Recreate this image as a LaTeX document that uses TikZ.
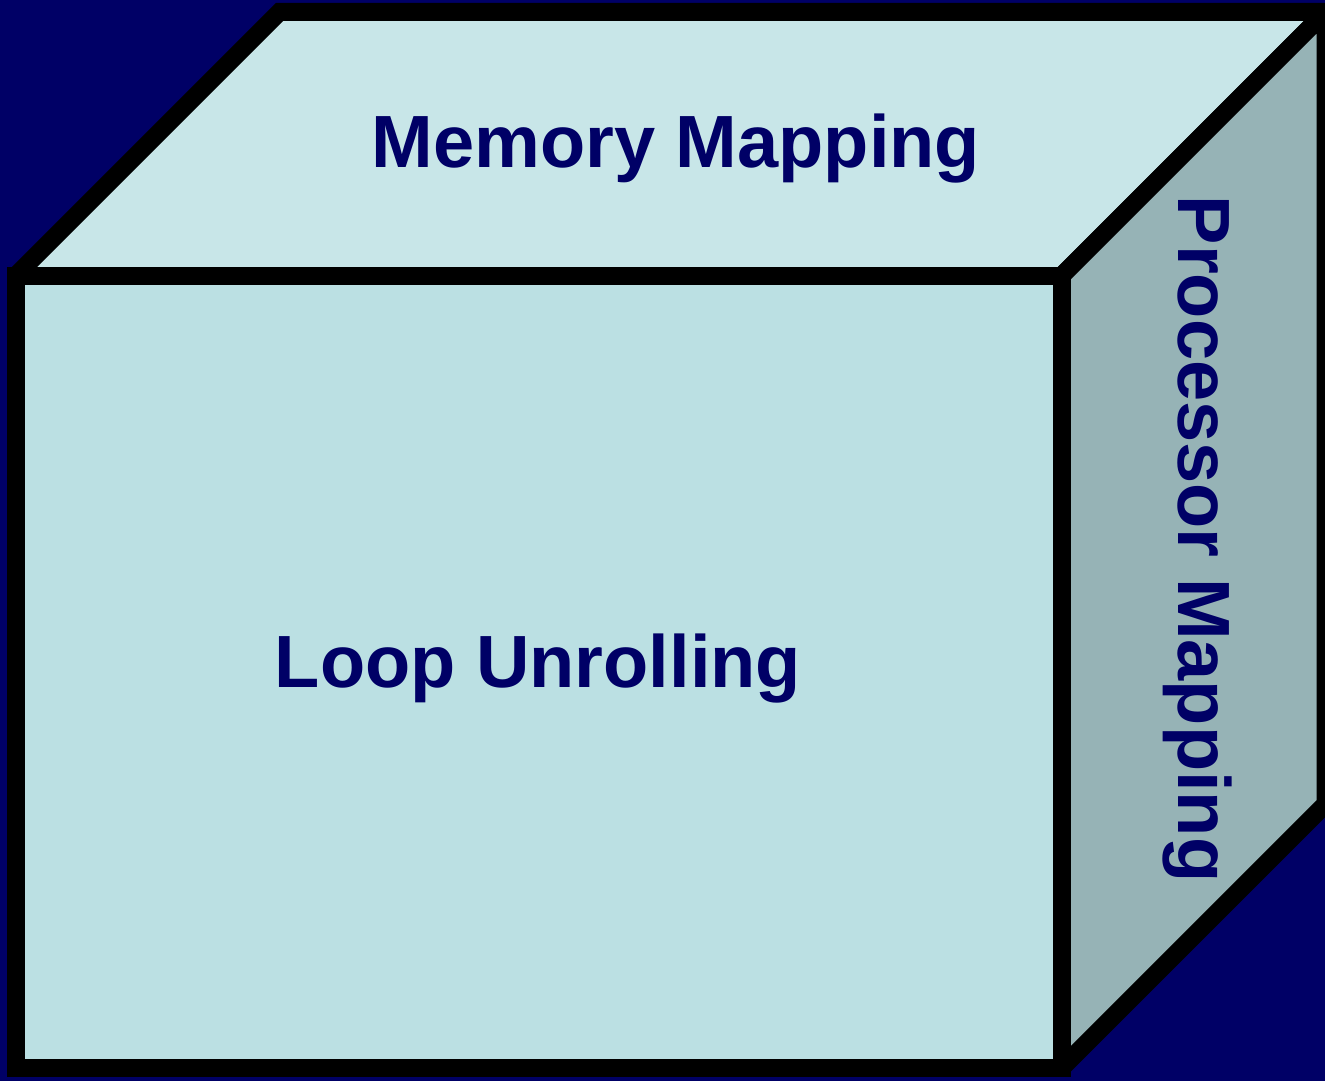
\documentclass[tikz,border=0pt]{standalone}
\usepackage{fontspec}
\setmainfont{Liberation Sans}
\definecolor{navy}{RGB}{0,0,102}
\definecolor{frontcol}{RGB}{187,224,227}
\definecolor{topcol}{RGB}{200,230,232}
\definecolor{sidecol}{RGB}{150,179,182}
\newcommand{\cubeface}[5]{\draw[line width=18pt,line join=miter,miter limit=2,fill=#1] (#2) -- (#3) -- (#4) -- (#5) -- cycle;}
\newcommand{\facetext}{\fontsize{74}{80}\selectfont\bfseries\color{navy}}

\begin{document}
\begin{tikzpicture}[x=1pt,y=-1pt]
			\fill[navy] (0,0) rectangle (1325,1081);
			\useasboundingbox (0,0) rectangle (1325,1081);
			\coordinate (ftl) at (15.5,276);
			\coordinate (ftr) at (1061.5,276);
			\coordinate (fbr) at (1061.5,1068);
			\coordinate (fbl) at (15.5,1068);
			\coordinate (btl) at (279.5,12);
			\coordinate (btr) at (1325.5,12);
			\coordinate (bbr) at (1325.5,804);
			
			\cubeface{topcol}{ftl}{btl}{btr}{ftr}
			\cubeface{sidecol}{ftr}{btr}{bbr}{fbr}
			\cubeface{frontcol}{ftl}{ftr}{fbr}{fbl}
			
			\node(memory) at (676,149) {\facetext Memory Mapping};
			\node(loop) at (538,669) {\facetext Loop Unrolling};
			\node[rotate=-90](processor) at (1197,539) {\facetext Processor Mapping};
		\end{tikzpicture}
\end{document}
